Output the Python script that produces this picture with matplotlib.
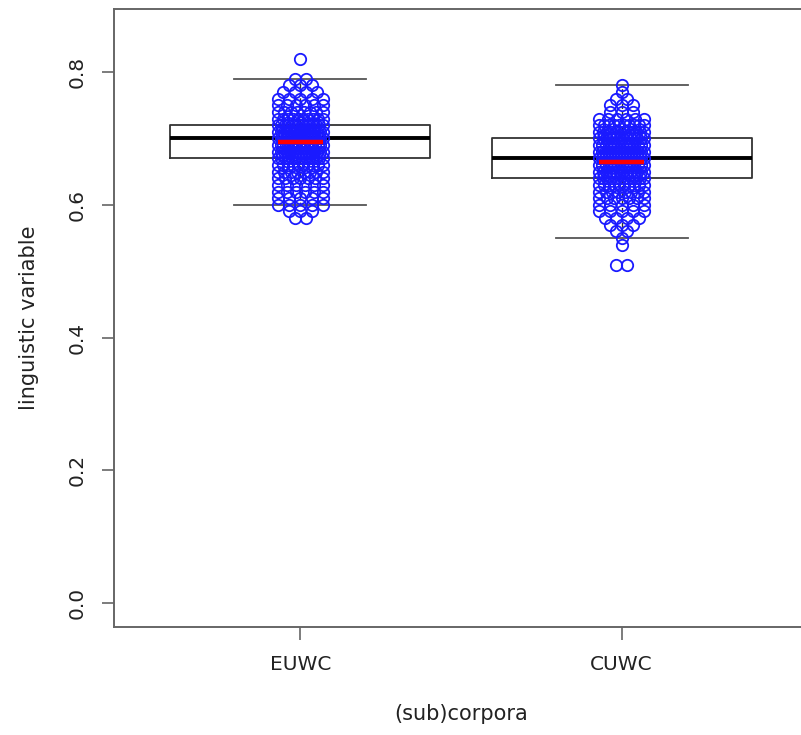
import matplotlib
matplotlib.use("Agg")
import matplotlib.pyplot as plt
import numpy as np

# groups shown on the x axis
groups = ["EUWC", "CUWC"]

# box statistics
whislo = [0.60, 0.55]
q1 = [0.67, 0.64]
med = [0.70, 0.67]
q3 = [0.72, 0.70]
whishi = [0.79, 0.78]
means = [0.694, 0.665]

# observed values (rounded to 0.01) and how many points sit at each level
euwc_levels = [0.82, 0.79, 0.78, 0.77, 0.76, 0.75, 0.74, 0.73, 0.72, 0.71, 0.70, 0.69,
               0.68, 0.67, 0.66, 0.65, 0.64, 0.63, 0.62, 0.61, 0.60, 0.59, 0.58]
euwc_counts = [1, 2, 3, 4, 5, 6, 8, 10, 14, 16, 18, 18,
               16, 14, 10, 8, 7, 6, 6, 5, 5, 3, 2]
cuwc_levels = [0.78, 0.77, 0.76, 0.75, 0.74, 0.73, 0.72, 0.71, 0.70, 0.69, 0.68, 0.67, 0.66,
               0.65, 0.64, 0.63, 0.62, 0.61, 0.60, 0.59, 0.58, 0.57, 0.56, 0.55, 0.54, 0.51]
cuwc_counts = [1, 1, 2, 3, 3, 6, 10, 12, 14, 15, 16, 16, 15,
               14, 12, 10, 8, 7, 5, 5, 4, 3, 2, 1, 1, 2]

jitter_w = 0.07


def spread(levels, counts, center):
    # lay the points of each level side by side within the jitter band
    xs, ys = [], []
    for lev, n in zip(levels, counts):
        if n == 1:
            offs = np.array([0.0])
        else:
            half = jitter_w * min(1.0, (n - 1) / 4.0)
            offs = np.linspace(-half, half, n)
        xs.extend(center + offs)
        ys.extend([lev] * n)
    return np.array(xs), np.array(ys)


fig = plt.figure(figsize=(8.01, 7.35), dpi=100)
ax = fig.add_axes([114 / 801, 108 / 735, (808 - 114) / 801, (627 - 9) / 735])

stats = []
for i in range(2):
    stats.append(dict(whislo=whislo[i], q1=q1[i], med=med[i], q3=q3[i],
                      whishi=whishi[i], fliers=[]))
ax.bxp(stats, positions=[1, 2], widths=0.81, capwidths=0.41, showfliers=False,
       boxprops=dict(color="#333333", linewidth=1.3),
       medianprops=dict(color="black", linewidth=2.8),
       whiskerprops=dict(color="#333333", linewidth=1.0, linestyle="--"),
       capprops=dict(color="#555555", linewidth=1.3))

for i, (levels, counts) in enumerate([(euwc_levels, euwc_counts), (cuwc_levels, cuwc_counts)]):
    x, y = spread(levels, counts, i + 1)
    ax.plot(x, y, "o", markerfacecolor="none", markeredgecolor="#1a1aff",
            markersize=8.2, markeredgewidth=1.3, zorder=3)
    ax.hlines(means[i], i + 1 - jitter_w, i + 1 + jitter_w, color="red", linewidth=3.2, zorder=4)

ax.set_xlim(0.42, 2.58)
ax.set_ylim(-0.036, 0.895)
ax.set_xticks([1, 2])
ax.set_xticklabels(groups)
ax.set_yticks([0.0, 0.2, 0.4, 0.6, 0.8])
ax.set_yticklabels(["0.0", "0.2", "0.4", "0.6", "0.8"], rotation=90, va="center")

for sp in ax.spines.values():
    sp.set_color("#666666")
    sp.set_linewidth(1.4)
# the frame's right side lies just past the edge of the picture
ax.spines["right"].set_visible(False)
ax.tick_params(axis="both", length=9, width=1.2, color="#666666", labelsize=14.5,
               labelcolor="#222222", pad=11)

ax.set_xlabel("(sub)corpora", fontsize=15, color="#222222", labelpad=22)
ax.set_ylabel("linguistic variable", fontsize=15, color="#222222", labelpad=20)

fig.savefig("out.png", dpi=100)
